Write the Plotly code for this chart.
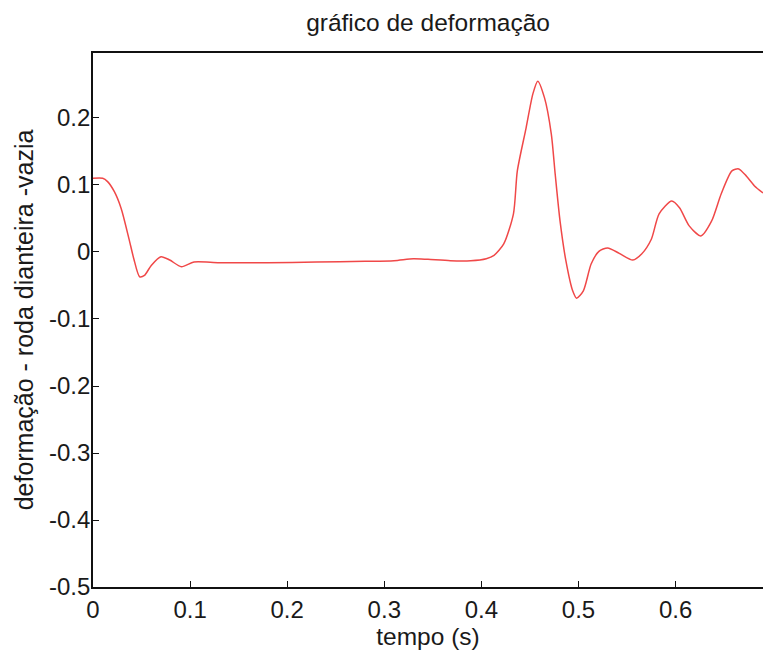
import plotly.graph_objects as go

# time (s) and deformation values
tempo = [0.000, 0.010, 0.015, 0.022, 0.029, 0.037, 0.042, 0.048, 0.053, 0.060,
         0.070, 0.079, 0.091, 0.104, 0.130, 0.180, 0.230, 0.280, 0.310, 0.330,
         0.345, 0.368, 0.389, 0.405, 0.413, 0.423, 0.433, 0.437, 0.446, 0.453,
         0.458, 0.465, 0.472, 0.476, 0.481, 0.487, 0.494, 0.498, 0.505, 0.513,
         0.521, 0.530, 0.542, 0.556, 0.565, 0.575, 0.583, 0.596, 0.604, 0.614,
         0.626, 0.637, 0.647, 0.658, 0.665, 0.673, 0.681, 0.690]
deformacao = [0.110, 0.110, 0.105, 0.090, 0.065, 0.020, -0.010, -0.037, -0.035, -0.020,
              -0.007, -0.012, -0.022, -0.015, -0.016, -0.016, -0.015, -0.014, -0.013, -0.010,
              -0.011, -0.013, -0.013, -0.010, -0.005, 0.012, 0.057, 0.121, 0.185, 0.236,
              0.255, 0.230, 0.176, 0.116, 0.046, -0.013, -0.058, -0.069, -0.058, -0.018,
              0.001, 0.006, -0.002, -0.012, -0.003, 0.019, 0.057, 0.076, 0.066, 0.039,
              0.024, 0.046, 0.087, 0.121, 0.124, 0.113, 0.099, 0.088]

x_ticks = [0, 0.1, 0.2, 0.3, 0.4, 0.5, 0.6]
x_ticktext = ["0", "0.1", "0.2", "0.3", "0.4", "0.5", "0.6"]
y_ticks = [-0.5, -0.4, -0.3, -0.2, -0.1, 0, 0.1, 0.2]
y_ticktext = ["-0.5", "-0.4", "-0.3", "-0.2", "-0.1", "0", "0.1", "0.2"]

FONT = "Liberation Sans, Arial, Helvetica, sans-serif"
TXT = "#1a1a1a"

fig = go.Figure()
fig.add_trace(go.Scatter(
    x=tempo, y=deformacao, mode="lines",
    line=dict(color="#f04848", width=1.5, shape="spline", smoothing=0.7),
    showlegend=False, hoverinfo="x+y",
))

fig.update_layout(
    width=763, height=653,
    margin=dict(l=93, r=0, t=53, b=66),
    paper_bgcolor="white", plot_bgcolor="white",
    font=dict(family=FONT, color=TXT, size=24),
    title=dict(text="gráfico de deformação", x=0.561, xanchor="center",
               y=0.966, yanchor="middle", font=dict(size=24.5, family=FONT, color=TXT)),
)
fig.update_xaxes(
    range=[0, 0.69], tickvals=x_ticks, ticktext=x_ticktext,
    showline=True, linecolor="#111111", linewidth=1.6, mirror=True,
    ticks="inside", ticklen=6, tickcolor="#111111",
    showgrid=False, zeroline=False,
    tickfont=dict(size=24, family=FONT, color=TXT),
    title=dict(text="tempo (s)", font=dict(size=24.5, family=FONT, color=TXT), standoff=2),
)
fig.update_yaxes(
    range=[-0.5, 0.297], tickvals=y_ticks, ticktext=y_ticktext,
    showline=True, linecolor="#111111", linewidth=1.6, mirror=False,
    ticks="inside", ticklen=6, tickcolor="#111111",
    showgrid=False, zeroline=False, ticklabelstandoff=-4,
    tickfont=dict(size=24, family=FONT, color=TXT),
    title=dict(text="deformação - roda dianteira -vazia",
               font=dict(size=25, family=FONT, color=TXT), standoff=8),
)

fig.write_html("out.html")
